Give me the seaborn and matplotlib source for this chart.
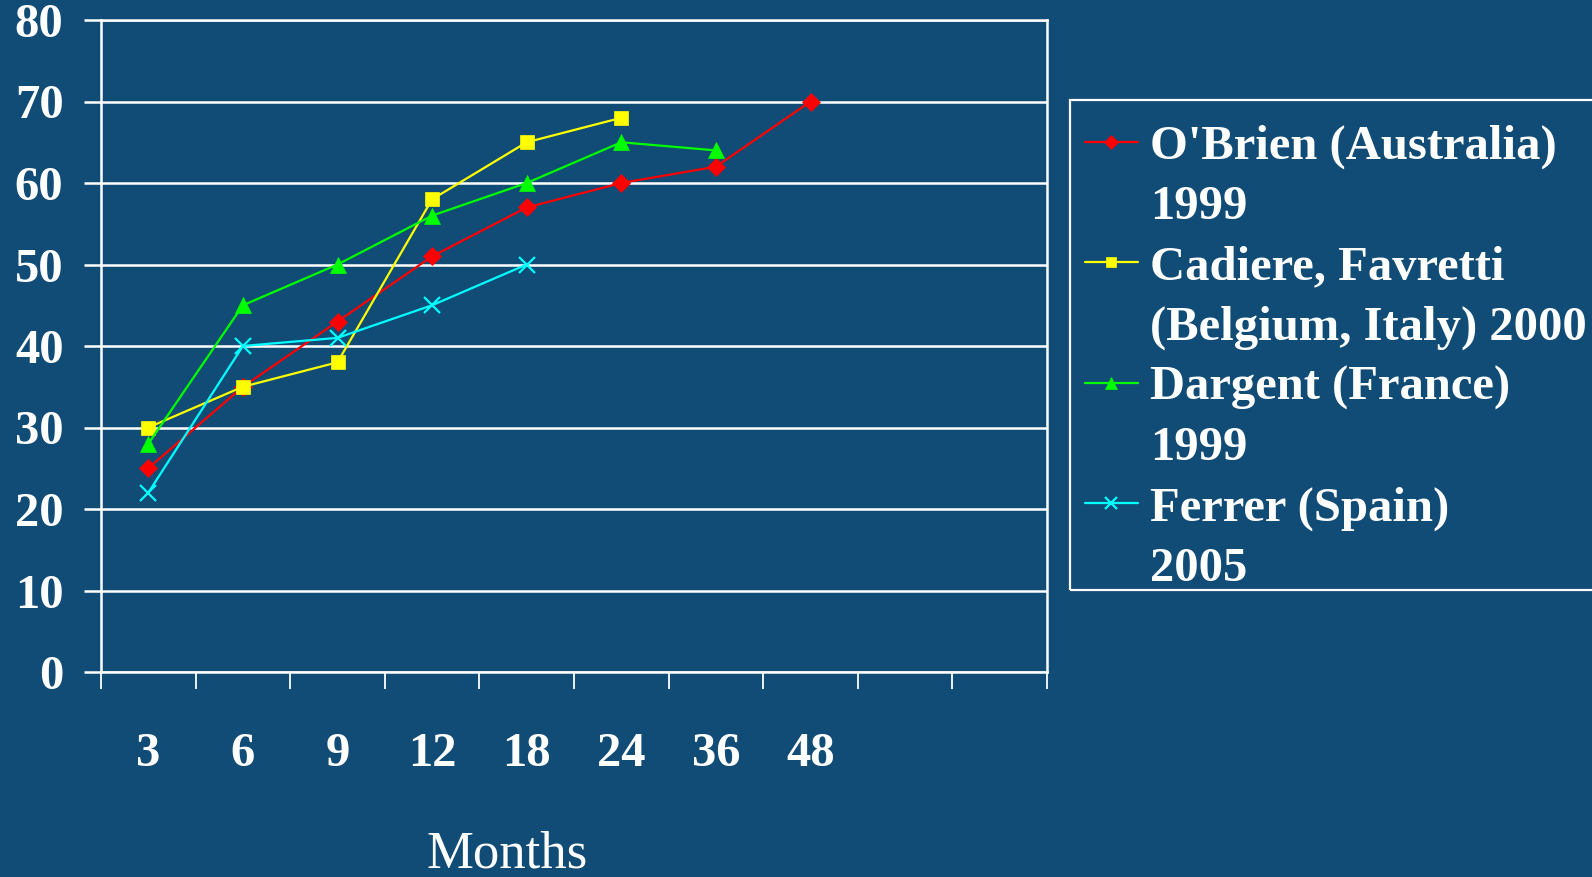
import numpy as np
import pandas as pd
import matplotlib
matplotlib.use('Agg')
import matplotlib.pyplot as plt
from matplotlib.lines import Line2D
from matplotlib.patches import Rectangle
import seaborn as sns

# Chart data (percent of excess weight lost, by months after surgery)
months = ['3', '6', '9', '12', '18', '24', '36', '48']
n_slots = 10  # the category axis has two empty slots at the right

obrien = [25, 35, 43, 51, 57, 60, 62, 70]
cadiere = [30, 35, 38, 58, 65, 68]
dargent = [28, 45, 50, 56, 60, 65, 64]
ferrer = [22, 40, 41, 45, 50]

labels = ["O'Brien (Australia)\n1999",
          "Cadiere, Favretti\n(Belgium, Italy) 2000",
          "Dargent (France)\n1999",
          "Ferrer (Spain)\n2005"]
colors = ['#FF0000', '#FFFF00', '#00FF00', '#00FFFF']
markers = ['D', 's', '^', 'x']
msizes = [9.5, 9.5, 11, 11]

bg = '#104C76'

# long-form table for seaborn
rows = []
for name, vals in zip(labels, [obrien, cadiere, dargent, ferrer]):
    for i, v in enumerate(vals):
        rows.append({'series': name, 'pos': i, 'value': v})
df = pd.DataFrame(rows)

sns.set_style('white')
plt.rcParams['font.family'] = ['Liberation Serif', 'DejaVu Serif']

fig = plt.figure(figsize=(15.92, 8.77), dpi=100, facecolor=bg)
ax = fig.add_axes([101 / 1592, 1 - 672 / 877, 946 / 1592, 652 / 877])
ax.set_facecolor(bg)

for name, c, m, ms in zip(labels, colors, markers, msizes):
    sub = df[df['series'] == name]
    sns.lineplot(data=sub, x='pos', y='value', ax=ax, color=c, marker=m,
                 markersize=ms, markeredgecolor=c, markerfacecolor=c,
                 markeredgewidth=1.6 if m == 'x' else 0.5,
                 linewidth=1.6, label=name, zorder=3)

# axes limits and ticks
ax.set_xlim(-0.5, n_slots - 0.5)
ax.set_ylim(0, 80)
ax.set_yticks(np.arange(0, 81, 10))
ax.set_xticks(np.arange(len(months)))
ax.set_xticklabels(months)
ax.set_xticks(np.arange(n_slots + 1) - 0.5, minor=True)

ax.grid(axis='y', color='white', linewidth=1.8, zorder=1)
ax.grid(axis='x', visible=False)
ax.set_axisbelow(True)
for s in ax.spines.values():
    s.set_visible(True)
    s.set_color('white')
    s.set_linewidth(1.8)

ax.tick_params(axis='y', which='major', left=True, length=12, width=1.8, color='white',
               pad=15, labelsize=35, labelcolor='white')
ax.tick_params(axis='x', which='major', bottom=True, length=0, pad=43,
               labelsize=35, labelcolor='white')
ax.tick_params(axis='x', which='minor', bottom=True, length=12, width=1.3, color='white')
for t in ax.get_xticklabels() + ax.get_yticklabels():
    t.set_fontweight('bold')

ax.set_ylabel('')
ax.set_xlabel('Months', fontsize=38, color='white', va='baseline')
ax.xaxis.set_label_coords((507 - 101) / 946, (672 - 867) / 652)

# legend: marker on the first line of each two-line entry
ax.legend_.remove()
handles, lbls = ax.get_legend_handles_labels()
leg_handles, leg_labels = [], []
for h, l in zip(handles, lbls):
    first, second = l.split('\n')
    leg_handles += [h, Line2D([], [], linestyle='none')]
    leg_labels += [first, second]

leg = ax.legend(leg_handles, leg_labels, loc='upper left',
                bbox_to_anchor=(1070 / 1592, 1 - 110 / 877),
                bbox_transform=fig.transFigure, borderaxespad=0,
                frameon=False,
                prop={'family': 'Liberation Serif', 'weight': 'bold', 'size': 35},
                handlelength=1.1, handletextpad=0.25, borderpad=0.3,
                labelspacing=0.33, markerscale=0.75)
for t in leg.get_texts():
    t.set_color('white')

# legend frame
fig.patches.append(Rectangle((1070 / 1592, 1 - 590 / 877), 540 / 1592, 490 / 877,
                             transform=fig.transFigure, facecolor='none',
                             edgecolor='white', linewidth=1.6, zorder=5))

fig.savefig('out.png', dpi=100, facecolor=bg)
